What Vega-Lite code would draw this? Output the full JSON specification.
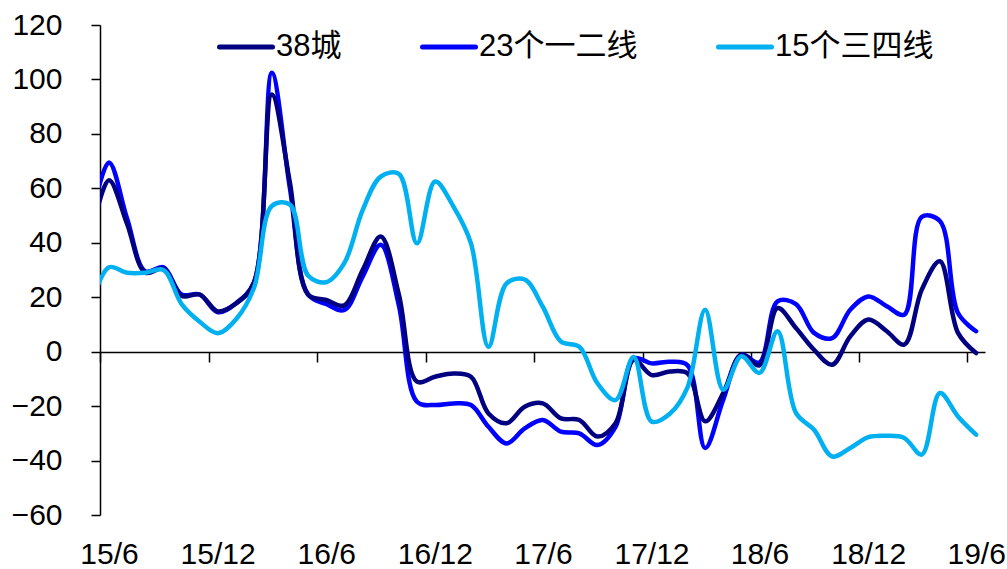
{
  "$schema": "https://vega.github.io/schema/vega-lite/v6.json",
  "width": 885,
  "height": 490,
  "autosize": {"type": "none"},
  "padding": {"left": 100, "top": 25, "right": 22, "bottom": 54},
  "background": "white",
  "config": {
    "font": "Liberation Sans, Noto Sans CJK SC",
    "view": {"stroke": null},
    "axis": {"grid": false, "domainColor": "#000000", "tickColor": "#000000", "domainWidth": 1.5, "tickWidth": 1.5, "labelColor": "#000000", "labelFontSize": 30, "labelFont": "Liberation Sans", "title": null}
  },
  "data": {
    "values": [
      {"month": "2015-05", "38城": 42, "23个一二线": 48, "15个三四线": 17},
      {"month": "2015-06", "38城": 63, "23个一二线": 69.5, "15个三四线": 31},
      {"month": "2015-07", "38城": 47, "23个一二线": 49, "15个三四线": 29},
      {"month": "2015-08", "38城": 29, "23个一二线": 29.5, "15个三四线": 29},
      {"month": "2015-09", "38城": 30.5, "23个一二线": 31, "15个三四线": 30},
      {"month": "2015-10", "38城": 20.5, "23个一二线": 21, "15个三四线": 17.5},
      {"month": "2015-11", "38城": 21, "23个一二线": 21, "15个三四线": 11},
      {"month": "2015-12", "38城": 14.8, "23个一二线": 14.5, "15个三四线": 6.8},
      {"month": "2016-01", "38城": 17.8, "23个一二线": 17.8, "15个三四线": 12},
      {"month": "2016-02", "38城": 25.5, "23个一二线": 25.5, "15个三四线": 23.5},
      {"month": "2016-03", "38城": 94.5, "23个一二线": 102.5, "15个三四线": 53.5},
      {"month": "2016-04", "38城": 62, "23个一二线": 60, "15个三四线": 54},
      {"month": "2016-05", "38城": 21, "23个一二线": 21, "15个三四线": 28},
      {"month": "2016-06", "38城": 19, "23个一二线": 17.5, "15个三四线": 25.5},
      {"month": "2016-07", "38城": 17, "23个一二线": 15.3, "15个三四线": 32.5},
      {"month": "2016-08", "38城": 30, "23个一二线": 27.6, "15个三四线": 52},
      {"month": "2016-09", "38城": 42.3, "23个一二线": 39.3, "15个三四线": 64.3},
      {"month": "2016-10", "38城": 21, "23个一二线": 17, "15个三四线": 65.3},
      {"month": "2016-11", "38城": -11, "23个一二线": -18.4, "15个三四线": 39.8},
      {"month": "2016-12", "38城": -9.2, "23个一二线": -19.6, "15个三四线": 62.5},
      {"month": "2017-01", "38城": -8, "23个一二线": -19, "15个三四线": 53.3},
      {"month": "2017-02", "38城": -9.2, "23个一二线": -19.6, "15个三四线": 39.8},
      {"month": "2017-03", "38城": -22.7, "23个一二线": -27.6, "15个三四线": 1.8},
      {"month": "2017-04", "38城": -26.3, "23个一二线": -33.7, "15个三四线": 25.1},
      {"month": "2017-05", "38城": -20.2, "23个一二线": -28.2, "15个三四线": 26.5},
      {"month": "2017-06", "38城": -19, "23个一二线": -25.1, "15个三四线": 16.5},
      {"month": "2017-07", "38城": -24.5, "23个一二线": -29.4, "15个三四线": 3.7},
      {"month": "2017-08", "38城": -25.1, "23个一二线": -30, "15个三四线": 1.8},
      {"month": "2017-09", "38城": -31.2, "23个一二线": -34.3, "15个三四线": -11.6},
      {"month": "2017-10", "38城": -26.3, "23个一二线": -27.6, "15个三四线": -17.8},
      {"month": "2017-11", "38城": -3, "23个一二线": -2.5, "15个三四线": -2},
      {"month": "2017-12", "38城": -8.6, "23个一二线": -4.3, "15个三四线": -25.7},
      {"month": "2018-01", "38城": -7.3, "23个一二线": -3.7, "15个三四线": -22.7},
      {"month": "2018-02", "38城": -8, "23个一二线": -5, "15个三四线": -13},
      {"month": "2018-03", "38城": -25.6, "23个一二线": -35.4, "15个三四线": 15.4},
      {"month": "2018-04", "38城": -15.2, "23个一二线": -17.6, "15个三四线": -14},
      {"month": "2018-05", "38城": -1.1, "23个一二线": -1.1, "15个三四线": -1.7},
      {"month": "2018-06", "38城": -5, "23个一二线": -4, "15个三四线": -7.8},
      {"month": "2018-07", "38城": 16, "23个一二线": 18.5, "15个三四线": 7.5},
      {"month": "2018-08", "38城": 8.7, "23个一二线": 17.5, "15个三四线": -22.5},
      {"month": "2018-09", "38城": 0.7, "23个一二线": 6.9, "15个三四线": -28.7},
      {"month": "2018-10", "38城": -4.8, "23个一二线": 5, "15个三四线": -38.5},
      {"month": "2018-11", "38城": 5.6, "23个一二线": 15.4, "15个三四线": -35.4},
      {"month": "2018-12", "38城": 11.8, "23个一二线": 20.3, "15个三四线": -31.4},
      {"month": "2019-01", "38城": 7.5, "23个一二线": 16.7, "15个三四线": -30.9},
      {"month": "2019-02", "38城": 2.6, "23个一二线": 13.6, "15个三四线": -31.7},
      {"month": "2019-03", "38城": 22.8, "23个一二线": 49.5, "15个三四线": -37.8},
      {"month": "2019-04", "38城": 33.2, "23个一二线": 48, "15个三四线": -15.2},
      {"month": "2019-05", "38城": 6.9, "23个一二线": 14.2, "15个三四线": -23.8},
      {"month": "2019-06", "38城": -0.5, "23个一二线": 7.5, "15个三四线": -30.5}
    ]
  },
  "transform": [
    {"fold": ["23个一二线", "38城", "15个三四线"], "as": ["series", "value"]}
  ],
  "mark": {"type": "line", "interpolate": "catmull-rom", "strokeWidth": 4.5, "strokeCap": "round", "strokeJoin": "round", "clip": true},
  "encoding": {
    "x": {
      "field": "month",
      "timeUnit": "yearmonth",
      "type": "temporal",
      "bandPosition": 0.5,
      "scale": {"domain": [{"year": 2015, "month": 6, "date": 1}, {"year": 2019, "month": 7, "date": 1}]},
      "axis": {
        "values": [
          {"year": 2015, "month": 6, "date": 1}, {"year": 2015, "month": 12, "date": 1},
          {"year": 2016, "month": 6, "date": 1}, {"year": 2016, "month": 12, "date": 1},
          {"year": 2017, "month": 6, "date": 1}, {"year": 2017, "month": 12, "date": 1},
          {"year": 2018, "month": 6, "date": 1}, {"year": 2018, "month": 12, "date": 1},
          {"year": 2019, "month": 6, "date": 1}
        ],
        "format": "%y/%-m",
        "offset": -163,
        "tickSize": 10,
        "labelPadding": 177,
        "labelOffset": 9,
        "labelAngle": 0,
        "labelFlush": false,
        "labelOverlap": false
      }
    },
    "y": {
      "field": "value",
      "type": "quantitative",
      "scale": {"domain": [-60, 120], "nice": false, "zero": false},
      "axis": {"values": [-60, -40, -20, 0, 20, 40, 60, 80, 100, 120], "tickSize": 9, "labelPadding": 29}
    },
    "color": {
      "field": "series",
      "type": "nominal",
      "scale": {"domain": ["38城", "23个一二线", "15个三四线"], "range": ["#000080", "#0000FF", "#00B0F0"]},
      "legend": {
        "title": null,
        "orient": "none",
        "direction": "horizontal",
        "legendX": 117,
        "legendY": -7,
        "symbolType": "stroke",
        "symbolSize": 2809,
        "symbolStrokeWidth": 5,
        "labelFontSize": 31,
        "labelLimit": 400,
        "labelColor": "#000000",
        "labelOffset": 1,
        "columnPadding": 70,
        "encode": {"symbols": {"update": {"strokeCap": {"value": "round"}}}}
      }
    }
  }
}
